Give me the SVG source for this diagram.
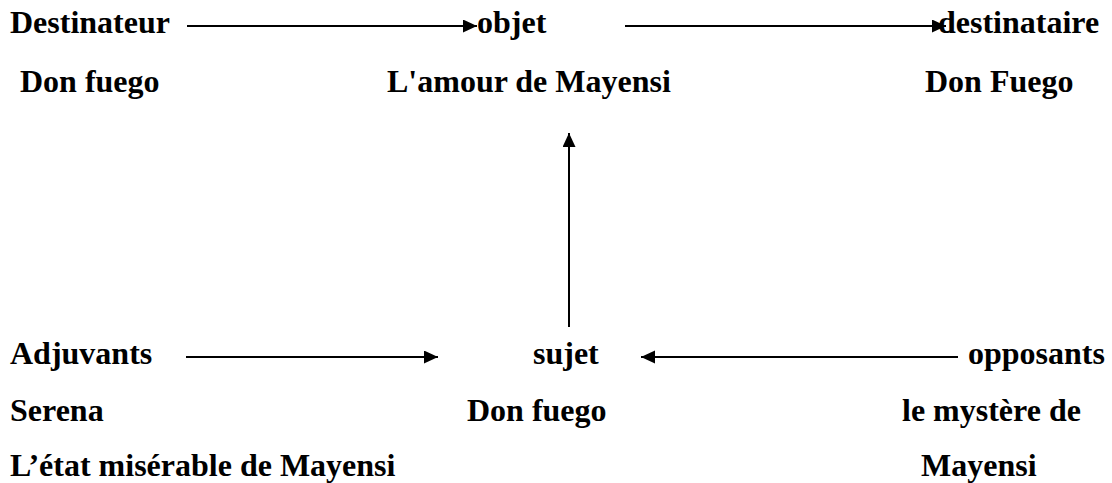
<svg xmlns="http://www.w3.org/2000/svg" width="1112" height="483" viewBox="0 0 1112 483">
<style>
text{font-family:"Liberation Serif","Times New Roman",serif;font-weight:bold;font-size:32px;fill:#000}
.c{stroke:#000;stroke-width:2;fill:none}
</style>
<defs>
<marker id="ah" markerUnits="userSpaceOnUse" markerWidth="16" markerHeight="14" refX="14" refY="6.5" orient="auto">
<path d="M0,0 L14,6.5 L0,13 Z" fill="#000"/>
</marker>
</defs>
<rect width="1112" height="483" fill="#fff"/>
<g id="connectors">
<line class="c" x1="187" y1="26" x2="477" y2="26" marker-end="url(#ah)"/>
<line class="c" x1="625" y1="26" x2="946" y2="26" marker-end="url(#ah)"/>
<line class="c" x1="569" y1="327" x2="569" y2="133" marker-end="url(#ah)"/>
<line class="c" x1="186" y1="357" x2="438" y2="357" marker-end="url(#ah)"/>
<line class="c" x1="958" y1="357" x2="641" y2="357" marker-end="url(#ah)"/>
</g>
<g id="destinateur">
<text x="10" y="33">Destinateur</text>
<text x="20" y="92">Don fuego</text>
</g>
<g id="objet">
<text x="477" y="33">objet</text>
<text x="387" y="92">L'amour de Mayensi</text>
</g>
<g id="destinataire">
<text x="938" y="33">destinataire</text>
<text x="925" y="92">Don Fuego</text>
</g>
<g id="adjuvants">
<text x="10" y="364">Adjuvants</text>
<text x="10" y="421">Serena</text>
<text x="10" y="476">L’état misérable de Mayensi</text>
</g>
<g id="sujet">
<text x="533" y="364">sujet</text>
<text x="467" y="421">Don fuego</text>
</g>
<g id="opposants">
<text x="968" y="364">opposants</text>
<text x="902" y="421">le mystère de</text>
<text x="921" y="476">Mayensi</text>
</g>
</svg>
